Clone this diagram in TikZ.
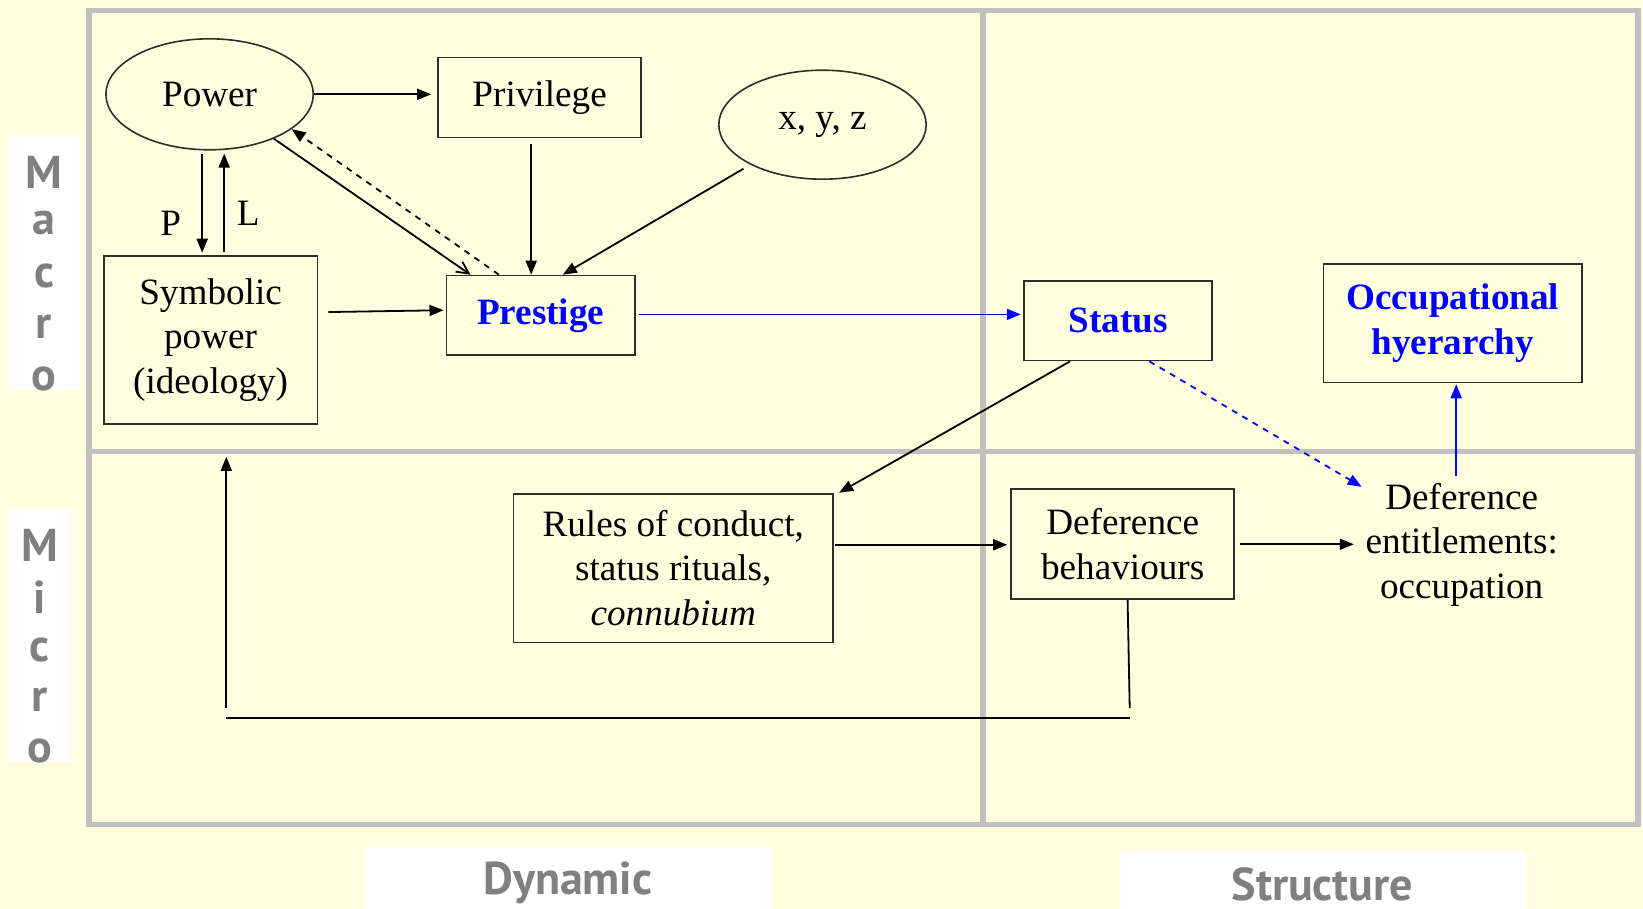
\documentclass[tikz,border=0pt]{standalone}
\usepackage{fontspec}
\setmainfont{Liberation Serif}
\newfontfamily\axisfont{PT Sans}
\usetikzlibrary{arrows.meta,shapes.geometric}
\definecolor{paper}{RGB}{255,255,224}
\definecolor{gridgray}{RGB}{192,192,192}
\definecolor{axisgray}{RGB}{128,128,128}
\definecolor{boxline}{RGB}{45,45,45}
\newcommand\diagfont{\fontsize{18.6pt}{22.3pt}\selectfont}
\begin{document}
\begin{tikzpicture}[x=0.5pt,y=-0.5pt,
  box/.style={draw=boxline, line width=0.9pt, inner sep=0pt, align=center, font=\diagfont},
  oval/.style={ellipse, draw=boxline, line width=0.8pt, inner sep=0pt, font=\diagfont},
  keybox/.style={box, font=\diagfont\bfseries, text=blue},
  arr/.style={-{Triangle[length=7pt,width=5.5pt]}, line width=0.9pt},
  barb/.style={-{Straight Barb[length=6pt,width=6pt]}, line width=0.9pt},
  barr/.style={arr, blue},
  axisletter/.style={font=\axisfont\bfseries\fontsize{23pt}{26pt}\selectfont, text=axisgray, inner sep=0pt},
  gridline/.style={draw=gridgray, line width=2.6pt}
]
% canvas
\fill[paper] (0,0) rectangle (1643,909);
\useasboundingbox (0,0) rectangle (1643,909);

% quadrant grid
\draw[gridline] (89,10.5) rectangle (1638,824.6);
\draw[gridline] (983,10.5) -- (983,824.6);
\draw[gridline] (89,451.6) -- (1638,451.6);

% axis captions
\fill[white] (8.4,136.2) rectangle (79.6,389.8);
\fill[white] (8.4,509.2) rectangle (71.2,761.8);
\fill[white] (364.6,846.6) rectangle (772.2,909);
\fill[white] (1119,850.8) rectangle (1525.7,909);
\foreach \ch/\yy [count=\i] in {M/172.9,a/223.2,c/275.6,r/326.9,o/379.3}
  \node[axisletter] (macro\i) at (44,\yy) {\ch};
\foreach \ch/\yy [count=\i] in {M/544.9,i/597.2,c/649.6,r/699.9,o/751.3}
  \node[axisletter] (micro\i) at (39.8,\yy) {\ch};
\node[axisletter] (dyn) at (567.9,883.3) {Dynamic};
\node[axisletter] (struct) at (1322.4,884.5) {Structure};

% nodes
\node[oval, minimum width=103.7pt, minimum height=55.5pt] (pw) at (209.6,94.3) {Power};
\node[box, minimum width=101.5pt, minimum height=40pt] (pv) at (539.6,97.5) {Privilege};
\node[oval, minimum width=103.7pt, minimum height=54.5pt] (xy) at (822.5,124.7) {x, y, z};
\node[box, minimum width=106.9pt, minimum height=84.35pt] (sy) at (210.6,340) {Symbolic\\power\\(ideology)};
\node[keybox, minimum width=94.3pt, minimum height=39.8pt] (pr) at (540.7,315.4) {Prestige};
\node[keybox, minimum width=94.3pt, minimum height=39.8pt] (st) at (1118,320.6) {Status};
\node[keybox, minimum width=129.4pt, minimum height=59.2pt] (oc) at (1452.8,323.2) {Occupational\\hyerarchy};
\node[box, minimum width=159.8pt, minimum height=74.4pt] (ru) at (673.2,568) {Rules of conduct,\\status rituals,\\\textit{connubium}};
\node[box, minimum width=111.6pt, minimum height=55pt] (db) at (1122.7,544.3) {Deference\\behaviours};
\node[inner sep=0pt, align=center, font=\diagfont, minimum width=107.5pt, minimum height=68pt] (ent) at (1461.7,544.8) {Deference\\entitlements:\\occupation};

\node[font=\diagfont, inner sep=0pt] (lblP) at (170.8,223.2) {P};
\node[font=\diagfont, inner sep=0pt] (lblL) at (248.3,213.7) {L};

% power block
\draw[arr, shorten >=3pt] (pw.east) -- (pw.east -| pv.west);
\coordinate (pDown) at ([xshift=-3.7pt]pw.south);
\draw[arr, shorten <=1.5pt, shorten >=1pt] (pDown) -- (pDown |- sy.north);
\coordinate (lUp) at ([xshift=6.8pt]sy.north);
\draw[arr, shorten <=1.5pt, shorten >=1.5pt] (lUp) -- (lUp |- pw.south);
\draw[barb] (pw) -- ([xshift=12.5pt]pr.north west);
\draw[arr, dashed] ([xshift=26.7pt]pr.north west) -- (pw.-23);
\coordinate (pvDown) at ([xshift=-4.2pt]pv.south);
\draw[arr, shorten <=3pt] (pvDown) -- (pvDown |- pr.north);
\draw[arr, shorten <=4pt] (xy.209) -- ([xshift=58.65pt]pr.north west);
\draw[arr, shorten <=5pt, shorten >=1pt] ([yshift=13.9pt]sy.east) -- ([yshift=2.6pt]pr.west);

% prestige to status and beyond
\coordinate (prOut) at ([yshift=0.5pt]pr.east);
\draw[barr, shorten <=1.5pt, shorten >=1pt] (prOut) -- (prOut -| st.west);
\draw[arr] ([xshift=-23.95pt]st.south) -- ([xshift=2.6pt]ru.north east);
\draw[barr, dashed] ([xshift=15.65pt]st.south) -- ([xshift=3.95pt,yshift=-5.2pt]ent.north west);
\coordinate (entUp) at ([xshift=-2.75pt]ent.north);
\draw[barr, shorten >=0.5pt] (entUp) -- (entUp |- oc.south);

% micro level
\coordinate (ruOut) at ([yshift=11.6pt]ru.east);
\draw[arr, shorten <=0.5pt, shorten >=1.5pt] (ruOut) -- (ruOut -| db.west);
\draw[arr, shorten <=2.6pt] (db.east) -- (db.east -| ent.west);

% feedback loop back to symbolic power
\coordinate (fbR) at (1129.7,717.7);
\coordinate (fbL) at (226.3,717.7);
\coordinate (fbT) at (226.3,456.8);
\draw[line width=0.9pt] ([xshift=2.45pt]db.south) -- ([yshift=4.85pt]fbR);
\draw[line width=0.9pt] (fbR) -- (fbL);
\draw[arr] ([yshift=4.85pt]fbL) -- (fbT);
\end{tikzpicture}
\end{document}
